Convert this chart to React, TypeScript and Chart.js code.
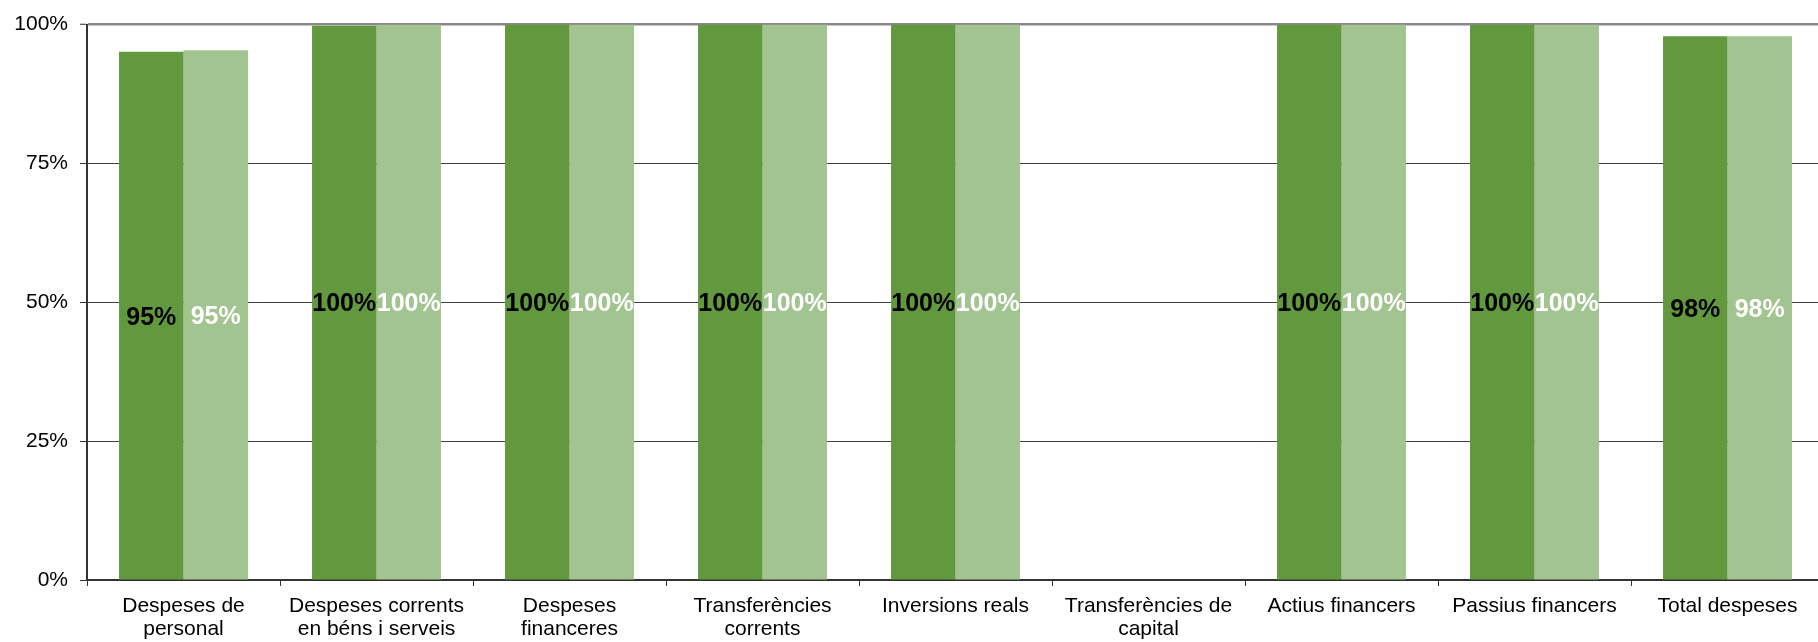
import React, { useEffect, useRef } from "react";
import { Chart, registerables } from "chart.js";

Chart.register(...registerables);

const categories: (string | string[])[] = [
  ["Despeses de", "personal"],
  ["Despeses corrents", "en béns i serveis"],
  ["Despeses", "financeres"],
  ["Transferències", "corrents"],
  ["Inversions reals"],
  ["Transferències de", "capital"],
  ["Actius financers"],
  ["Passius financers"],
  ["Total despeses"],
];

const seriesA: (number | null)[] = [95.1, 99.8, 100, 100, 100, null, 100, 100, 97.9];
const seriesB: (number | null)[] = [95.4, 100, 100, 100, 100, null, 100, 100, 97.9];

const seriesNames = ["Sèrie 1", "Sèrie 2"];
const labelColors = ["#000000", "#ffffff"];

const FONT = "'Liberation Sans', Arial, sans-serif";

const dataLabelPlugin = {
  id: "dataLabels",
  afterDatasetsDraw(chart: any) {
    const ctx = chart.ctx;
    ctx.save();
    ctx.font = `bold 25px ${FONT}`;
    ctx.textAlign = "center";
    ctx.textBaseline = "middle";
    chart.data.datasets.forEach((ds: any, di: number) => {
      const meta = chart.getDatasetMeta(di);
      meta.data.forEach((el: any, i: number) => {
        const v = ds.data[i];
        if (v === null || v === undefined) return;
        const p = el.getProps(["x", "y", "base"], true);
        ctx.fillStyle = labelColors[di];
        ctx.fillText(`${Math.round(v)}%`, p.x, (p.y + p.base) / 2 + 2);
      });
    });
    ctx.restore();
  },
};

export default function App() {
  const ref = useRef<HTMLCanvasElement | null>(null);

  useEffect(() => {
    if (!ref.current) return;
    const chart = new Chart(ref.current, {
      type: "bar",
      data: {
        labels: categories,
        datasets: [
          {
            label: seriesNames[0],
            data: seriesA,
            backgroundColor: "#62993E",
            categoryPercentage: 0.668,
            barPercentage: 1,
          },
          {
            label: seriesNames[1],
            data: seriesB,
            backgroundColor: "#A2C490",
            categoryPercentage: 0.668,
            barPercentage: 1,
          },
        ],
      },
      options: {
        animation: false,
        responsive: true,
        maintainAspectRatio: false,
        layout: { padding: { top: 21, right: 6, left: 0, bottom: 0 } },
        plugins: {
          legend: { display: false },
          tooltip: { enabled: false },
        },
        scales: {
          x: {
            afterFit: (s: any) => {
              s.height = 62;
            },
            grid: {
              offset: true,
              drawOnChartArea: false,
              drawTicks: true,
              tickLength: 6,
              tickColor: "#333333",
              tickWidth: 1,
            },
            border: { color: "#333333", width: 2 },
            ticks: {
              color: "#000000",
              font: { family: FONT, size: 21, lineHeight: 1.1 },
              maxRotation: 0,
              minRotation: 0,
              autoSkip: false,
              padding: 9,
            },
          },
          y: {
            min: 0,
            max: 100,
            afterFit: (s: any) => {
              s.width = 87;
            },
            grid: {
              color: (c: any) => (c.tick && c.tick.value === 100 ? "#888888" : "#404040"),
              lineWidth: (c: any) => (c.tick && c.tick.value === 100 ? 2.5 : 1),
              tickLength: 7,
              tickColor: "#333333",
              tickWidth: 1,
            },
            border: { color: "#333333", width: 2 },
            ticks: {
              stepSize: 25,
              color: "#000000",
              font: { family: FONT, size: 21 },
              padding: 12,
              callback: (v: any) => `${v}%`,
            },
          },
        },
      },
      plugins: [dataLabelPlugin],
    });
    return () => chart.destroy();
  }, []);

  return (
    <div style={{ position: "fixed", left: 0, top: 0, width: 1818, height: 642, overflow: "hidden", background: "#fff" }}>
      <div style={{ position: "relative", width: 1830, height: 642 }}>
        <canvas ref={ref} />
      </div>
    </div>
  );
}
